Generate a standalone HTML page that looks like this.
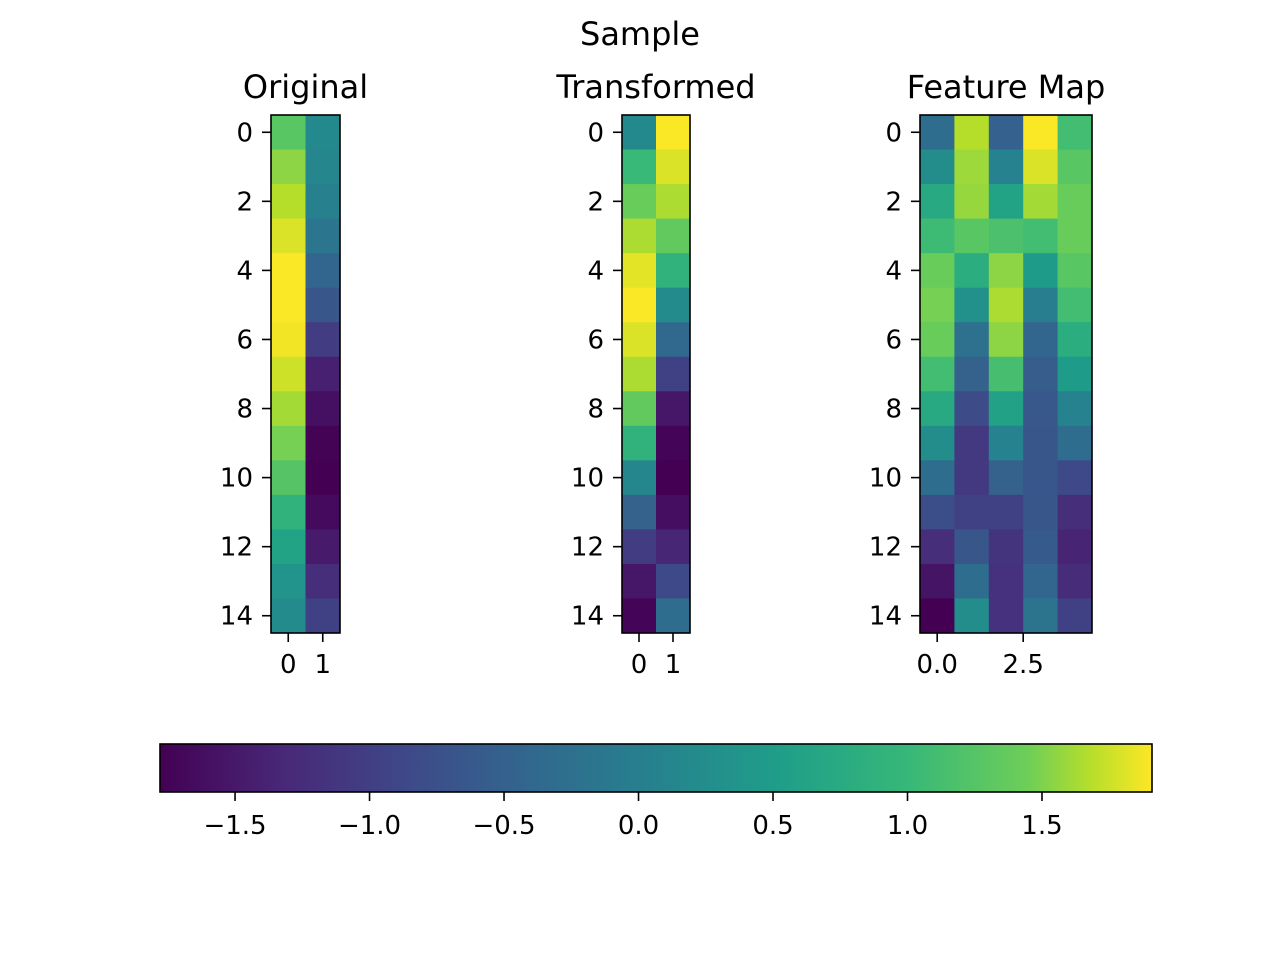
<!DOCTYPE html>
<html><head><meta charset="utf-8"><style>
html,body{margin:0;padding:0;background:#fff;}
svg text{font-family:"DejaVu Sans","Liberation Sans",sans-serif;fill:#000;}
</style></head><body>
<svg id="fig" width="1280" height="960" xmlns="http://www.w3.org/2000/svg">
<rect width="1280" height="960" fill="#fff"/>
<text x="640" y="45" font-size="32" text-anchor="middle">Sample</text>
</svg>
<script>
const originalValues = [
 [1.28,0.18],[1.55,0.14],[1.68,0.03],[1.8,-0.16],[1.9,-0.42],[1.9,-0.67],[1.87,-1.04],[1.76,-1.41],
 [1.62,-1.6],[1.47,-1.76],[1.25,-1.78],[0.9,-1.67],[0.62,-1.48],[0.36,-1.23],[0.21,-0.97]];
const transformedValues = [
 [0.18,1.9],[1.02,1.8],[1.4,1.65],[1.65,1.35],[1.83,0.9],[1.9,0.21],[1.8,-0.38],[1.65,-0.97],
 [1.35,-1.52],[0.9,-1.74],[0.14,-1.78],[-0.49,-1.63],[-1.04,-1.34],[-1.52,-0.86],[-1.74,-0.3]];
const featureValues = [
 [-0.3,1.68,-0.5,1.9,1.1],[0.25,1.6,0.07,1.8,1.28],[0.73,1.58,0.62,1.62,1.4],[1.05,1.28,1.17,1.1,1.4],
 [1.4,0.8,1.55,0.5,1.28],[1.47,0.32,1.65,0.0,1.1],[1.4,-0.23,1.55,-0.42,0.8],[1.1,-0.49,1.13,-0.56,0.5],
 [0.73,-0.82,0.58,-0.64,0.07],[0.25,-1.08,0.07,-0.67,-0.3],[-0.3,-1.08,-0.49,-0.67,-0.86],
 [-0.78,-0.97,-0.97,-0.67,-1.23],[-1.23,-0.67,-1.15,-0.6,-1.37],[-1.56,-0.3,-1.19,-0.42,-1.26],
 [-1.78,0.25,-1.19,-0.19,-0.97]];
const yTickLabels = [0,2,4,6,8,10,12,14];
const colorbarTicks = [-1.5,-1.0,-0.5,0.0,0.5,1.0,1.5];
const featureXTicks = [0.0,2.5];
const vmin = -1.779, vmax = 1.909;

const stops=[[0,"#440154"],[0.125,"#482878"],[0.25,"#3e4989"],[0.375,"#31688e"],[0.5,"#26828e"],[0.625,"#1f9e89"],[0.75,"#35b779"],[0.875,"#6ece58"],[0.9375,"#b5de2b"],[1,"#fde725"]];
function hex(h){return [1,3,5].map(i=>parseInt(h.substr(i,2),16));}
function viridis(t){t=Math.max(0,Math.min(1,t));for(let i=1;i<stops.length;i++){if(t<=stops[i][0]){const a=stops[i-1],b=stops[i];const f=(t-a[0])/(b[0]-a[0]);const ca=hex(a[1]),cb=hex(b[1]);return "rgb("+ca.map((c,k)=>Math.round(c+(cb[k]-c)*f)).join(",")+")";}}return stops[stops.length-1][1];}
function colorOf(v){return viridis((v-vmin)/(vmax-vmin));}

const svg=document.getElementById('fig');const NS="http://www.w3.org/2000/svg";
function mk(tag,attrs,parent){const e=document.createElementNS(NS,tag);for(const k in attrs)e.setAttribute(k,attrs[k]);(parent||svg).appendChild(e);return e;}

function heatmap(name,title,data,x0,x1,xticks){
 const y0=115,y1=633,rows=data.length,cols=data[0].length;
 const g=mk('g',{});
 
 
 const cw=(x1-x0)/cols,rh=(y1-y0)/rows;
 const xs=c=>x0+(c+0.5)*cw, ys=r=>y0+(r+0.5)*rh;
 for(let r=0;r<rows;r++)for(let c=0;c<cols;c++){
  const e=mk('rect',{x:xs(c)-cw/2,y:ys(r)-rh/2,width:cw+0.5,height:rh+0.5,fill:colorOf(data[r][c])},g);
  
  
 }
 mk('rect',{x:x0,y:y0,width:x1-x0,height:y1-y0,fill:'none',stroke:'#000','stroke-width':1.6},g);
 const t=mk('text',{x:(x0+x1)/2,y:98,'font-size':32,'text-anchor':'middle'},g);t.textContent=title;
 
 
 yTickLabels.forEach(v=>{const y=ys(v);mk('line',{x1:x0-9,x2:x0,y1:y,y2:y,stroke:'#000','stroke-width':1.6},g);
  const l=mk('text',{x:x0-18,y:y+9,'font-size':26,'text-anchor':'end'},g);l.textContent=v;
  
  });
 xticks.forEach(v=>{const x=xs(v);mk('line',{x1:x,x2:x,y1:y1,y2:y1+9,stroke:'#000','stroke-width':1.6},g);
  const l=mk('text',{x:x,y:y1+40,'font-size':26,'text-anchor':'middle'},g);l.textContent=name==='feature-map'?v.toFixed(1):v;
  
  });
}
heatmap('original','Original',originalValues,271,340,[0,1]);
heatmap('transformed','Transformed',transformedValues,622,690,[0,1]);
heatmap('feature-map','Feature Map',featureValues,920,1092,featureXTicks);

const cb=mk('g',{});


const defs=mk('defs',{},cb);const lg=mk('linearGradient',{id:'vg',x1:0,x2:1,y1:0,y2:0},defs);
stops.forEach(s=>mk('stop',{offset:s[0],'stop-color':s[1]},lg));
const cx0=160,cx1=1152,cy0=744,cy1=792;
mk('rect',{x:cx0,y:cy0,width:cx1-cx0,height:cy1-cy0,fill:'url(#vg)',stroke:'#000','stroke-width':1.6},cb);
const cxs=v=>cx0+(v-vmin)/(vmax-vmin)*(cx1-cx0);
colorbarTicks.forEach(v=>{const x=cxs(v);mk('line',{x1:x,x2:x,y1:cy1,y2:cy1+9,stroke:'#000','stroke-width':1.6},cb);
 const l=mk('text',{x:x,y:cy1+42,'font-size':26,'text-anchor':'middle'},cb);l.textContent=(v<0?'\u2212':'')+Math.abs(v).toFixed(1);
 
 });
</script>
</body></html>
